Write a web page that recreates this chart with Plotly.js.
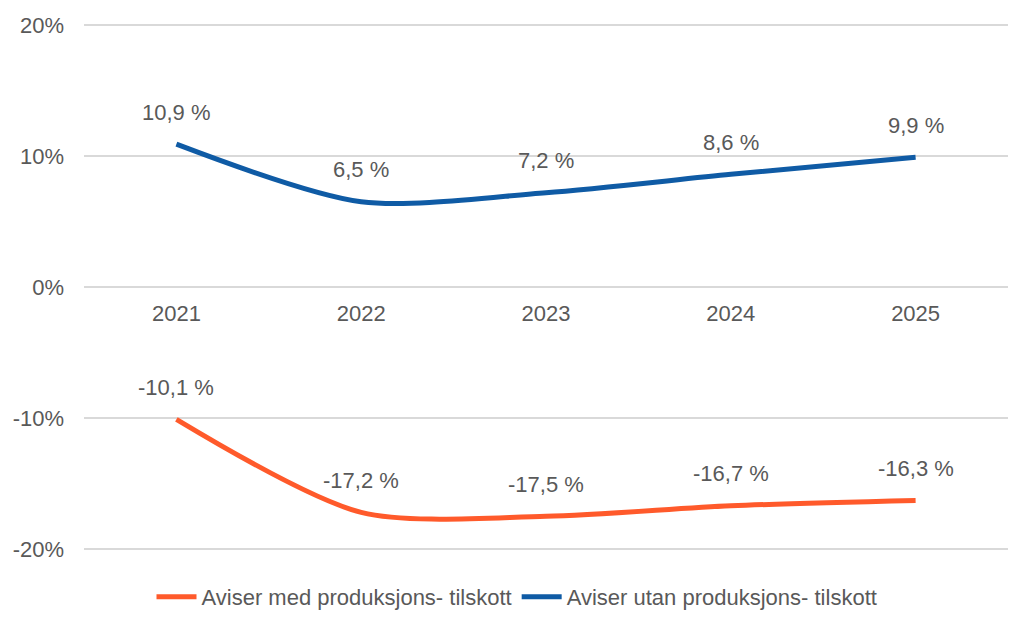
<!DOCTYPE html>
<html>
<head>
<meta charset="utf-8">
<script src="https://cdn.plot.ly/plotly-3.0.1.min.js"></script>
<style>
  html, body { margin: 0; padding: 0; background: #ffffff; }
  #chart { width: 1034px; height: 625px; }
</style>
</head>
<body>
<div id="chart"></div>
<script>
const CHART = document.getElementById('chart');

const TEXT = '#595959';
const GRID = '#d9d9d9';
const FONT = 'Liberation Sans, Arial, sans-serif';

const years = ['2021', '2022', '2023', '2024', '2025'];
const medTilskott = [-10.1, -17.2, -17.5, -16.7, -16.3];
const utanTilskott = [10.9, 6.5, 7.2, 8.6, 9.9];
const yTicks = [-20, -10, 0, 10, 20];

const seriesNames = ['Aviser med produksjons- tilskott', 'Aviser utan produksjons- tilskott'];
const seriesColors = ['#ff5a2b', '#0f5ba5'];

// "10,9 %" norwegian style
function pct(v) {
    return v.toFixed(1).replace('.', ',') + ' %';
}

function line(values, idx) {
    return {
        x: years,
        y: values,
        name: seriesNames[idx],
        type: 'scatter',
        mode: 'lines',
        line: { color: seriesColors[idx], width: 5, shape: 'spline', smoothing: 0.8 },
        hoverinfo: 'skip'
    };
}

// data labels as annotations so the offset can be tuned
// NOTE: x is the category index, a '2021' string gets read as a number
function labels(values) {
    return values.map((v, i) => ({
        x: i,
        y: v,
        xref: 'x',
        yref: 'y',
        text: pct(v),
        showarrow: false,
        yshift: 32,
        font: { size: 22, color: TEXT, family: FONT }
    }));
}

const traces = [line(medTilskott, 0), line(utanTilskott, 1)];

const layout = {
    width: 1034,
    height: 625,
    margin: { l: 84, r: 26, t: 23, b: 74 },
    paper_bgcolor: '#ffffff',
    plot_bgcolor: '#ffffff',
    font: { family: FONT, size: 22, color: TEXT },
    showlegend: true,
    // container coords so the legend does not push the bottom margin
    legend: {
        orientation: 'h',
        xref: 'container',
        yref: 'container',
        x: 0.5,
        xanchor: 'center',
        y: 0.045,
        yanchor: 'middle',
        font: { size: 22, color: TEXT },
        itemwidth: 40,
        tracegroupgap: 0
    },
    xaxis: {
        type: 'category',
        anchor: 'free',
        position: 0.5,
        showgrid: false,
        showline: false,
        zeroline: false,
        ticks: '',
        ticklabelstandoff: 11,
        tickfont: { size: 22, color: TEXT },
        range: [-0.5, 4.5]
    },
    yaxis: {
        // a bit past +/-20 so the edge grid lines are kept
        range: [-20.15, 20.15],
        tickvals: yTicks,
        ticktext: yTicks.map(v => v + '%'),
        showgrid: true,
        gridcolor: GRID,
        gridwidth: 1.3,
        zeroline: false,
        showline: false,
        ticks: '',
        ticklabelstandoff: 19,
        tickfont: { size: 22, color: TEXT }
    },
    annotations: labels(medTilskott).concat(labels(utanTilskott))
};

Plotly.newPlot(CHART, traces, layout, { staticPlot: true });
</script>
</body>
</html>
